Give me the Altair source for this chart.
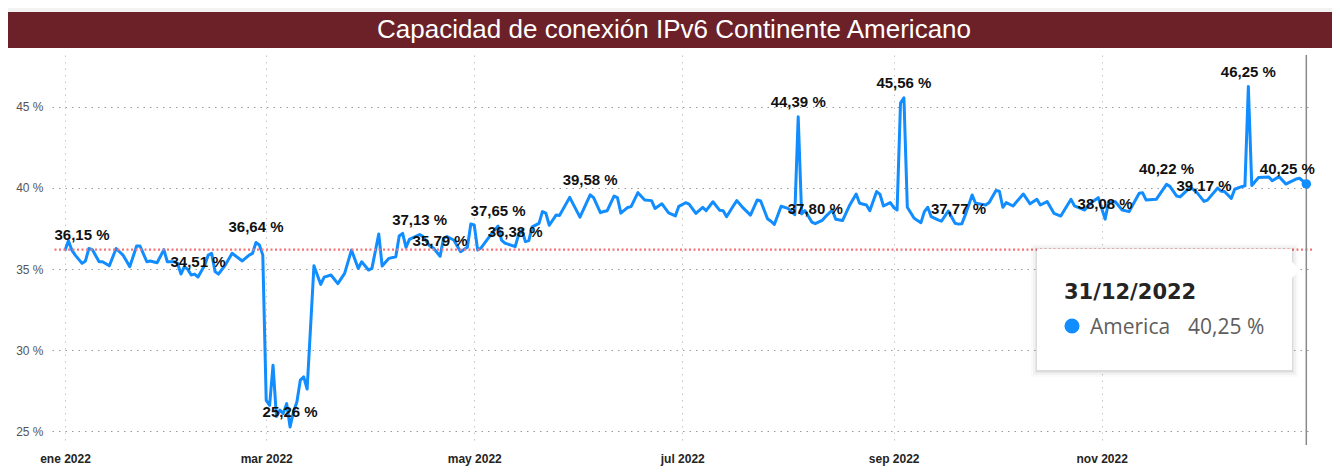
import altair as alt
import pandas as pd

# ---------------- data ----------------
fechas = [
    "2022-01-01", "2022-01-02", "2022-01-03", "2022-01-04", "2022-01-06", "2022-01-07", "2022-01-08",
    "2022-01-09", "2022-01-11", "2022-01-12", "2022-01-14", "2022-01-16", "2022-01-18", "2022-01-20",
    "2022-01-22", "2022-01-23", "2022-01-25", "2022-01-26", "2022-01-28", "2022-01-30", "2022-01-31",
    "2022-02-02", "2022-02-03", "2022-02-04", "2022-02-05", "2022-02-06", "2022-02-07", "2022-02-08",
    "2022-02-09", "2022-02-11", "2022-02-12", "2022-02-13", "2022-02-14", "2022-02-15", "2022-02-17",
    "2022-02-19", "2022-02-22", "2022-02-24", "2022-02-25", "2022-02-26", "2022-02-27", "2022-02-28",
    "2022-03-01", "2022-03-02", "2022-03-03", "2022-03-04", "2022-03-05", "2022-03-06", "2022-03-07",
    "2022-03-08", "2022-03-09", "2022-03-10", "2022-03-11", "2022-03-12", "2022-03-13", "2022-03-15",
    "2022-03-17", "2022-03-18", "2022-03-20", "2022-03-22", "2022-03-24", "2022-03-26", "2022-03-28",
    "2022-03-29", "2022-03-31", "2022-04-01", "2022-04-03", "2022-04-04", "2022-04-06", "2022-04-08",
    "2022-04-09", "2022-04-10", "2022-04-11", "2022-04-12", "2022-04-15", "2022-04-16", "2022-04-18",
    "2022-04-19", "2022-04-21", "2022-04-22", "2022-04-23", "2022-04-25", "2022-04-27", "2022-04-29",
    "2022-04-30", "2022-05-01", "2022-05-02", "2022-05-03", "2022-05-06", "2022-05-08", "2022-05-09",
    "2022-05-10", "2022-05-13", "2022-05-14", "2022-05-15", "2022-05-16", "2022-05-17", "2022-05-18",
    "2022-05-20", "2022-05-21", "2022-05-22", "2022-05-23", "2022-05-25", "2022-05-26", "2022-05-29",
    "2022-06-01", "2022-06-04", "2022-06-05", "2022-06-07", "2022-06-08", "2022-06-09", "2022-06-11",
    "2022-06-12", "2022-06-13", "2022-06-15", "2022-06-16", "2022-06-18", "2022-06-20", "2022-06-22",
    "2022-06-23", "2022-06-25", "2022-06-27", "2022-06-29", "2022-06-30", "2022-07-02", "2022-07-03",
    "2022-07-05", "2022-07-07", "2022-07-08", "2022-07-10", "2022-07-12", "2022-07-13", "2022-07-14",
    "2022-07-16", "2022-07-17", "2022-07-19", "2022-07-21", "2022-07-23", "2022-07-24", "2022-07-26",
    "2022-07-27", "2022-07-28", "2022-07-30", "2022-08-01", "2022-08-03", "2022-08-04", "2022-08-05",
    "2022-08-06", "2022-08-08", "2022-08-09", "2022-08-11", "2022-08-12", "2022-08-14", "2022-08-15",
    "2022-08-17", "2022-08-19", "2022-08-21", "2022-08-22", "2022-08-24", "2022-08-25", "2022-08-27",
    "2022-08-28", "2022-08-29", "2022-08-31", "2022-09-01", "2022-09-02", "2022-09-03", "2022-09-04",
    "2022-09-05", "2022-09-07", "2022-09-08", "2022-09-09", "2022-09-10", "2022-09-11", "2022-09-12",
    "2022-09-14", "2022-09-15", "2022-09-17", "2022-09-19", "2022-09-20", "2022-09-21", "2022-09-22",
    "2022-09-24", "2022-09-25", "2022-09-28", "2022-09-29", "2022-10-01", "2022-10-02", "2022-10-03",
    "2022-10-04", "2022-10-06", "2022-10-09", "2022-10-11", "2022-10-13", "2022-10-14", "2022-10-16",
    "2022-10-18", "2022-10-20", "2022-10-23", "2022-10-24", "2022-10-27", "2022-10-29", "2022-10-31",
    "2022-11-02", "2022-11-03", "2022-11-05", "2022-11-07", "2022-11-09", "2022-11-12", "2022-11-13",
    "2022-11-14", "2022-11-17", "2022-11-20", "2022-11-21", "2022-11-23", "2022-11-24", "2022-11-27",
    "2022-11-29", "2022-12-01", "2022-12-02", "2022-12-05", "2022-12-06", "2022-12-07", "2022-12-09",
    "2022-12-10", "2022-12-12", "2022-12-13", "2022-12-14", "2022-12-15", "2022-12-17", "2022-12-20",
    "2022-12-21", "2022-12-23", "2022-12-25", "2022-12-26", "2022-12-28", "2022-12-29", "2022-12-31",
]
valores = [
    36.15, 36.75, 36.17, 35.86, 35.35, 35.50, 36.27,
    36.20, 35.45, 35.45, 35.20, 36.27, 35.86, 35.15,
    36.42, 36.42, 35.45, 35.50, 35.39, 36.20, 35.45,
    35.45, 35.35, 34.69, 35.15, 34.98, 34.63, 34.69,
    34.51, 35.25, 35.86, 35.97, 34.85, 34.69, 35.25,
    35.97, 35.50, 35.86, 35.97, 36.64, 36.48, 35.86,
    26.90, 26.60, 29.07, 25.90, 26.30, 26.10, 26.70,
    25.26, 26.20, 26.80, 28.15, 28.35, 27.60, 35.20,
    34.05, 34.50, 34.63, 34.10, 34.73, 36.17, 35.04,
    35.45, 34.94, 35.04, 37.16, 35.19, 35.66, 35.76,
    37.04, 37.20, 36.34, 36.83, 37.13, 37.00, 36.42,
    36.30, 35.79, 36.90, 37.00, 36.79, 36.07, 36.34,
    37.78, 37.72, 36.17, 36.30, 37.16, 37.65, 36.79,
    36.60, 36.38, 37.10, 37.41, 36.69, 36.75, 37.60,
    37.82, 38.54, 38.45, 37.70, 38.33, 38.30, 39.42,
    38.20, 39.58, 39.40, 38.48, 38.55, 38.60, 39.50,
    39.40, 38.45, 38.80, 38.85, 39.71, 39.26, 39.22,
    38.74, 39.03, 38.46, 38.28, 38.87, 39.09, 39.00,
    38.43, 38.80, 38.60, 39.15, 38.62, 38.60, 38.23,
    38.90, 39.22, 38.74, 38.33, 39.26, 39.20, 38.10,
    37.95, 37.75, 38.87, 38.74, 38.35, 44.39, 38.40,
    38.60, 37.90, 37.80, 38.00, 38.23, 38.64, 38.07,
    37.99, 38.90, 39.63, 39.06, 38.95, 38.60, 39.78,
    39.60, 38.89, 39.10, 38.80, 38.64, 45.23, 45.56,
    38.81, 38.13, 38.00, 37.86, 38.54, 38.81, 38.23,
    38.03, 37.95, 38.58, 37.82, 37.77, 37.80, 38.34,
    39.57, 39.06, 38.95, 39.10, 39.84, 39.80, 38.81,
    39.10, 38.89, 39.63, 39.02, 39.30, 38.95, 39.16,
    38.44, 38.27, 39.30, 38.90, 38.64, 39.10, 39.40,
    38.08, 39.10, 39.15, 38.64, 38.54, 39.67, 39.70,
    39.26, 39.30, 40.22, 40.10, 39.50, 39.45, 40.05,
    39.70, 39.17, 39.25, 40.00, 39.80, 39.78, 39.36,
    39.92, 40.08, 40.13, 46.25, 40.15, 40.65, 40.68,
    40.45, 40.70, 40.24, 40.35, 40.55, 40.60, 40.25,
]

etiqueta_fechas = [
    "2022-01-01", "2022-02-09", "2022-02-26", "2022-03-08", "2022-04-15", "2022-04-21",
    "2022-05-08", "2022-05-13", "2022-06-04", "2022-08-04", "2022-08-09", "2022-09-04",
    "2022-09-20", "2022-11-02", "2022-11-20", "2022-12-01", "2022-12-14", "2022-12-31",
]
etiqueta_valores = [
    36.15, 34.51, 36.64, 25.26, 37.13, 35.79,
    37.65, 36.38, 39.58, 44.39, 37.80, 45.56,
    37.77, 38.08, 40.22, 39.17, 46.25, 40.25,
]

linea_referencia = 36.2
serie = "America"
titulo = "Capacidad de conexión IPv6 Continente Americano"
ticks_y = [25, 30, 35, 40, 45]
meses = ["ene", "feb", "mar", "abr", "may", "jun", "jul", "ago", "sep", "oct", "nov", "dic"]


def pct(v):
    return f"{v:.2f}".replace(".", ",") + " %"


df = pd.DataFrame({"fecha": fechas, "valor": valores})
lab = pd.DataFrame({
    "fecha": etiqueta_fechas,
    "valor": etiqueta_valores,
    "texto": [pct(v) for v in etiqueta_valores],
})
ultimo = df.tail(1)
y_, m_, d_ = fechas[-1].split("-")
tooltip_fecha = f"{d_}/{m_}/{y_}"
tooltip_valor = pct(valores[-1])

# ---------------- scales / axes ----------------
PLOT_W, PLOT_H = 1260, 390
BLUE = "#118DFF"
FONT = "Liberation Sans"

xs = alt.Scale(
    type="utc",
    domain=[
        alt.DateTime(year=2021, month=12, date=28, hours=4, minutes=30, utc=True),
        alt.DateTime(year=2023, month=1, date=1, hours=16, utc=True),
    ],
)
ys = alt.Scale(domain=[24.15, 48.2], nice=False, zero=False)

month_expr = "[" + ",".join(f"'{m}'" for m in meses) + "]"
x_axis = alt.Axis(
    values=[alt.DateTime(year=2022, month=m, date=1, utc=True) for m in [1, 3, 5, 7, 9, 11]],
    labelExpr=month_expr + "[utcmonth(datum.value)] + ' ' + utcyear(datum.value)",
    labelFont=FONT, labelFontSize=12, labelFontWeight="bold", labelColor="#252423",
    labelPadding=8, domain=False, ticks=False,
    grid=True, gridColor="#c4c4c4", gridDash=[1.5, 5], gridWidth=1,
    title=None,
)
y_axis = alt.Axis(
    values=ticks_y,
    labelExpr="datum.value + ' %'",
    labelFont=FONT, labelFontSize=12, labelColor="#555555", labelPadding=9,
    domain=False, ticks=False,
    grid=True, gridColor="#9a9a9a", gridDash=[1.5, 5], gridWidth=1,
    title=None,
)
X = alt.X("fecha:T", scale=xs, axis=x_axis)
Y = alt.Y("valor:Q", scale=ys, axis=y_axis)

one = pd.DataFrame({"k": [0]})

# ---------------- layers ----------------
linea = alt.Chart(df).mark_line(color=BLUE, strokeWidth=3, strokeJoin="round").encode(x=X, y=Y)

promedio = alt.Chart(pd.DataFrame({"valor": [linea_referencia]})).mark_rule(
    color="#F47479", strokeDash=[2, 2.5], strokeWidth=2.2
).encode(y=Y)

hover = alt.Chart(ultimo).mark_rule(color="#8a8a8a", strokeWidth=1.5).encode(x=X)

punto = alt.Chart(ultimo).mark_circle(size=90, color=BLUE, opacity=1).encode(x=X, y=Y)

lab_style = dict(font=FONT, fontSize=15, fontWeight="bold", color="#111111", baseline="middle", dy=-15)
etiquetas = alt.Chart(lab.iloc[1:-1]).mark_text(**lab_style).encode(x=X, y=Y, text="texto:N")
etiqueta_ini = alt.Chart(lab.iloc[:1]).mark_text(dx=17, **lab_style).encode(x=X, y=Y, text="texto:N")
etiqueta_fin = alt.Chart(lab.iloc[-1:]).mark_text(dx=-19, **lab_style).encode(x=X, y=Y, text="texto:N")

# header band (pixel positions relative to plot area)
franja = alt.Chart(one).mark_rect(color="#f2f2f2").encode(
    x=alt.value(-44), x2=alt.value(1284), y=alt.value(-47), y2=alt.value(-43))
barra = alt.Chart(one).mark_rect(color="#6B2127").encode(
    x=alt.value(-45), x2=alt.value(1284), y=alt.value(-43), y2=alt.value(-7))
texto_titulo = alt.Chart(one).mark_text(
    text=titulo, font=FONT, fontSize=26, color="white", align="center", baseline="middle"
).encode(x=alt.value(622), y=alt.value(-25))

# tooltip box
sombras = []
for i, op in zip([6, 4, 2, 1], [0.02, 0.03, 0.04, 0.05]):
    sombras.append(alt.Chart(one).mark_rect(color="black", opacity=op).encode(
        x=alt.value(985 - i), x2=alt.value(1240 + i), y=alt.value(194 - i + 1), y2=alt.value(315 + i + 1)))
caja = alt.Chart(one).mark_rect(color="white").encode(
    x=alt.value(985), x2=alt.value(1240), y=alt.value(194), y2=alt.value(315))
flecha = alt.Chart(one).mark_point(
    shape="M 0 -1 L 1 0 L 0 1 Z", filled=True, color="white", opacity=1, size=324, strokeWidth=0
).encode(x=alt.value(1239), y=alt.value(215))
tt_fecha = alt.Chart(one).mark_text(
    text=tooltip_fecha, font="DejaVu Sans", fontSize=21, fontWeight="bold", color="#252423",
    align="left", baseline="middle"
).encode(x=alt.value(1012), y=alt.value(238))
tt_punto = alt.Chart(one).mark_circle(size=227, color=BLUE, opacity=1).encode(
    x=alt.value(1020), y=alt.value(271))
tt_serie = alt.Chart(one).mark_text(
    text=serie, font="Open Sans", fontSize=21, color="#605E5C", align="left", baseline="middle"
).encode(x=alt.value(1038), y=alt.value(273))
tt_valor = alt.Chart(one).mark_text(
    text=tooltip_valor, font="Open Sans", fontSize=21, color="#605E5C", align="left", baseline="middle"
).encode(x=alt.value(1136), y=alt.value(273))

chart = alt.layer(
    linea, promedio, hover, punto, etiquetas, etiqueta_ini, etiqueta_fin,
    franja, barra, texto_titulo, *sombras, caja, flecha, tt_fecha, tt_punto, tt_serie, tt_valor,
).properties(
    width=PLOT_W, height=PLOT_H,
    autosize=alt.AutoSizeParams(type="none"),
    padding={"left": 44, "top": 47, "right": 20, "bottom": 25},
    background="white",
).configure_view(stroke=None)

chart.save("out.html", embed_options={"renderer": "svg", "actions": False})
